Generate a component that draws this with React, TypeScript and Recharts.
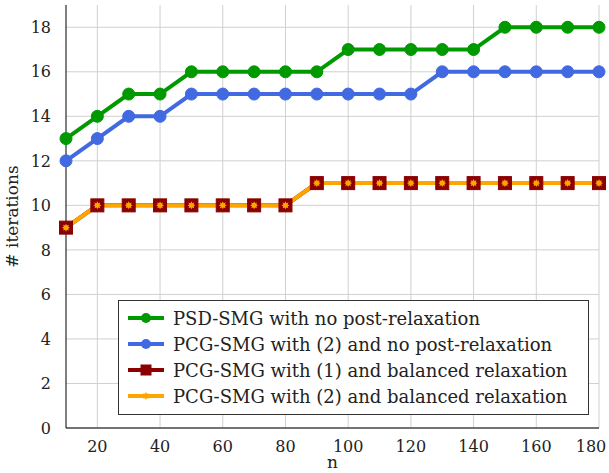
import React from 'react';
import { LineChart, Line, XAxis, YAxis, CartesianGrid, Label } from 'recharts';

const nValues = [10, 20, 30, 40, 50, 60, 70, 80, 90, 100, 110, 120, 130, 140, 150, 160, 170, 180];
const psdNoPost = [13, 14, 15, 15, 16, 16, 16, 16, 16, 17, 17, 17, 17, 17, 18, 18, 18, 18];
const pcg2NoPost = [12, 13, 14, 14, 15, 15, 15, 15, 15, 15, 15, 15, 16, 16, 16, 16, 16, 16];
const pcg1Balanced = [9, 10, 10, 10, 10, 10, 10, 10, 11, 11, 11, 11, 11, 11, 11, 11, 11, 11];
const pcg2Balanced = [9, 10, 10, 10, 10, 10, 10, 10, 11, 11, 11, 11, 11, 11, 11, 11, 11, 11];
const xTicks = [20, 40, 60, 80, 100, 120, 140, 160, 180];
const yTicks = [0, 2, 4, 6, 8, 10, 12, 14, 16, 18];

const legendItems = [
  { label: 'PSD-SMG with no post-relaxation', color: '#009900', mark: 'circle' },
  { label: 'PCG-SMG with (2) and no post-relaxation', color: '#4169e1', mark: 'circle' },
  { label: 'PCG-SMG with (1) and balanced relaxation', color: '#8b0000', mark: 'square' },
  { label: 'PCG-SMG with (2) and balanced relaxation', color: '#ffa500', mark: 'star' },
];

const data = nValues.map((n, i) => ({
  n,
  psd: psdNoPost[i],
  pcg2: pcg2NoPost[i],
  pcg1b: pcg1Balanced[i],
  pcg2b: pcg2Balanced[i],
}));

const FONT = 'DejaVu Serif';
const GREEN = '#009900';
const BLUE = '#4169e1';
const RED = '#8b0000';
const ORANGE = '#ffa500';

const starPath = (cx: number, cy: number, r: number) => {
  let d = '';
  for (let k = 0; k < 16; k++) {
    const rr = k % 2 === 0 ? r : r * 0.6;
    const a = (Math.PI * k) / 8;
    d += `${k === 0 ? 'M' : 'L'}${cx + rr * Math.sin(a)},${cy - rr * Math.cos(a)}`;
  }
  return d + 'Z';
};

const CircleDot = (color: string) => (props: any) => {
  const { cx, cy, index } = props;
  if (cx == null || cy == null) return <g key={index} />;
  return <circle key={index} cx={cx} cy={cy} r={6} fill={color} stroke={color} strokeWidth={1} />;
};

const SquareDot = (props: any) => {
  const { cx, cy, index } = props;
  if (cx == null || cy == null) return <g key={index} />;
  return <rect key={index} x={cx - 6.5} y={cy - 6.5} width={13} height={13} fill={RED} stroke={RED} />;
};

const StarDot = (props: any) => {
  const { cx, cy, index } = props;
  if (cx == null || cy == null) return <g key={index} />;
  return <path key={index} d={starPath(cx, cy, 4)} fill={ORANGE} />;
};

// keep the last x label inside the picture
const XTick = (props: any) => {
  const { x, y, payload } = props;
  const dx = payload.value === 180 ? -6 : 0;
  return (
    <text x={x + dx} y={y} dy={12} textAnchor="middle" fill="#222" fontSize={16} fontFamily={FONT}>
      {payload.value}
    </text>
  );
};

const XTitle = (props: any) => {
  const vb = props.viewBox || { x: 66, width: 533 };
  return (
    <text x={vb.x + vb.width / 2} y={468} textAnchor="middle" fill="#222" fontSize={17} fontFamily={FONT}>
      n
    </text>
  );
};

const LegendMark = ({ color, mark }: { color: string; mark: string }) => (
  <svg width={36} height={14} style={{ display: 'block' }}>
    <line x1={0} y1={7} x2={36} y2={7} stroke={color} strokeWidth={4} />
    {mark === 'circle' && <circle cx={18} cy={7} r={5} fill={color} />}
    {mark === 'square' && <rect x={12.5} y={1.5} width={11} height={11} fill={color} />}
    {mark === 'star' && <path d={starPath(18, 7, 4)} fill={color} />}
  </svg>
);

export default function App() {
  return (
    <div style={{ position: 'absolute', left: 0, top: 0, width: 609, height: 473, background: '#fff' }}>
      <LineChart width={609} height={473} data={data} margin={{ top: 5, right: 10, bottom: 0, left: 0 }}>
        <CartesianGrid stroke="#d0d0d0" strokeWidth={1} verticalValues={xTicks} horizontalValues={yTicks} />
        <XAxis
          dataKey="n"
          type="number"
          domain={[10, 180]}
          ticks={xTicks}
          height={45}
          tickLine={false}
          tickMargin={6}
          stroke="#000"
          tick={<XTick />}
        >
          <Label content={XTitle} />
        </XAxis>
        <XAxis xAxisId="top" dataKey="n" type="number" domain={[10, 180]} orientation="top" height={0} tick={false} tickLine={false} stroke="#000" />
        <YAxis
          type="number"
          domain={[0, 19]}
          ticks={yTicks}
          width={66}
          tickLine={false}
          tickMargin={9}
          stroke="#000"
          tick={{ fill: '#222', fontSize: 16, fontFamily: FONT }}
        >
          <Label value="# iterations" angle={-90} position="insideLeft" offset={12} style={{ fill: '#222', fontSize: 17, fontFamily: FONT, textAnchor: 'middle' }} />
        </YAxis>
        <YAxis yAxisId="right" type="number" domain={[0, 19]} orientation="right" width={0} tick={false} tickLine={false} stroke="#000" />
        <Line dataKey="psd" stroke={GREEN} strokeWidth={4} dot={CircleDot(GREEN)} isAnimationActive={false} />
        <Line dataKey="pcg2" stroke={BLUE} strokeWidth={4} dot={CircleDot(BLUE)} isAnimationActive={false} />
        <Line dataKey="pcg1b" stroke={RED} strokeWidth={4} dot={false} isAnimationActive={false} />
        <Line dataKey="pcg2b" stroke={ORANGE} strokeWidth={4} dot={false} isAnimationActive={false} />
        <Line dataKey="pcg1b" stroke="none" dot={SquareDot} isAnimationActive={false} />
        <Line dataKey="pcg2b" stroke="none" dot={StarDot} isAnimationActive={false} />
      </LineChart>
      <div
        style={{
          position: 'absolute',
          left: 118,
          top: 300,
          width: 471,
          height: 115,
          boxSizing: 'border-box',
          border: '1px solid #333',
          background: '#fff',
          padding: '4px 0 0 9px',
          fontFamily: FONT,
          fontSize: 18,
          color: '#222',
        }}
      >
        {legendItems.map((it) => (
          <div key={it.label} style={{ display: 'flex', alignItems: 'center', height: 26 }}>
            <LegendMark color={it.color} mark={it.mark} />
            <span style={{ marginLeft: 9, whiteSpace: 'nowrap' }}>{it.label}</span>
          </div>
        ))}
      </div>
    </div>
  );
}
